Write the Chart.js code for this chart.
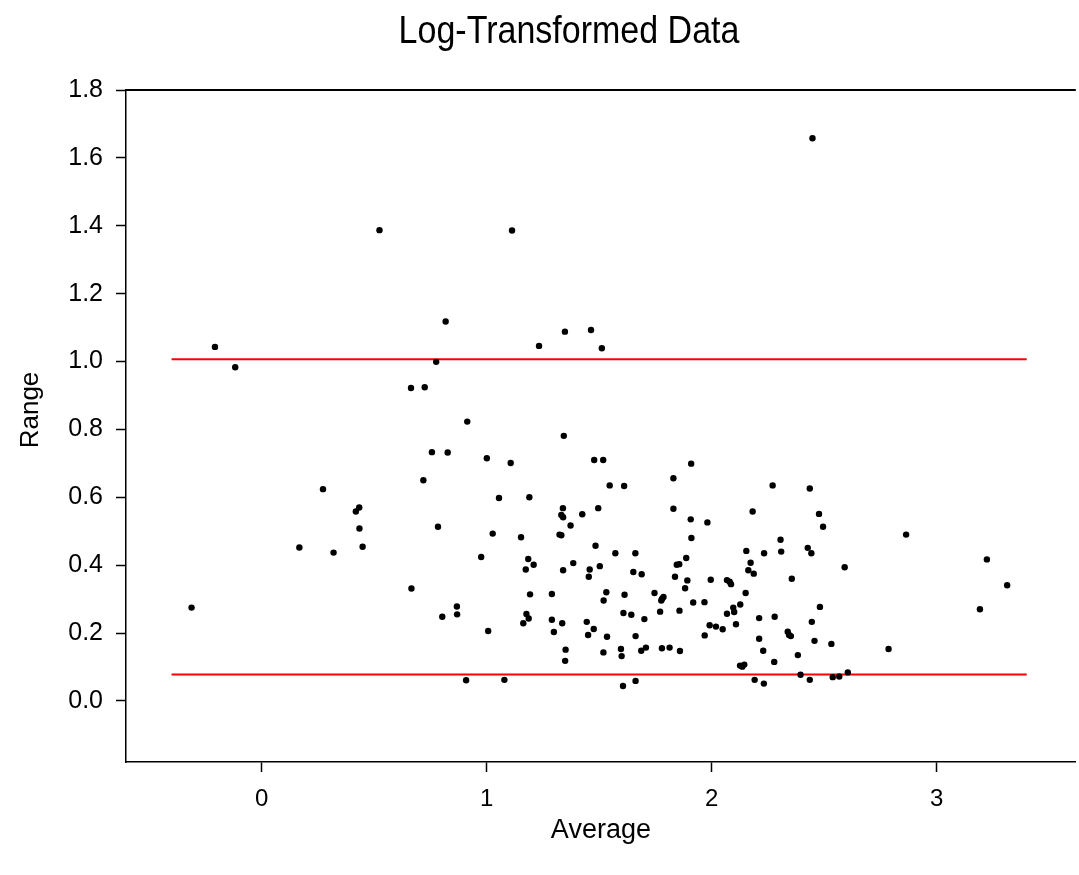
<!DOCTYPE html>
<html>
<head>
<meta charset="utf-8">
<script src="https://cdn.jsdelivr.net/npm/chart.js@4.4.0/dist/chart.umd.min.js"></script>
<style>
  html, body { margin: 0; padding: 0; background: #fff; }
  #wrap { width: 1079px; height: 875px; }
</style>
</head>
<body>
<div id="wrap"><canvas id="c" width="1079" height="875"></canvas></div>
<script>
const chartTitle = 'Log-Transformed Data';
const xTitle = 'Average';
const yTitle = 'Range';

const xTicks = [0, 1, 2, 3];
const yTicks = [0.0, 0.2, 0.4, 0.6, 0.8, 1.0, 1.2, 1.4, 1.6, 1.8];

const upperLimit = 1.0065;
const lowerLimit = 0.0775;
const limitStart = -0.4;
const limitEnd = 3.4;

const xValues = [
  -0.311, -0.207, -0.117,
  0.524, 1.113, 0.818, 2.448,
  1.348, 1.233, 0.776, 0.664, 0.725, 0.914, 1.343, 0.757, 0.827, 1.001,
  1.107, 0.273, 0.719, 1.055, 1.190, 1.339, 0.434, 0.419, 1.332, 1.340,
  1.373, 0.435, 0.784, 1.027, 1.153, 1.324, 1.332, 0.168, 0.320, 0.449,
  0.976, 1.185, 1.209, 1.174, 1.385, 1.340, 0.666, 1.193, 1.290, 0.868,
  0.869, 0.803, 1.177, 1.187, 1.163, 1.290, 1.336, 1.299, 1.007, 1.351,
  1.349, 0.909, 1.079,
  1.464, 1.512, 1.478, 1.518, 1.909, 1.547, 1.611, 1.830, 2.271, 1.425,
  1.496, 1.830, 2.182, 1.907, 1.981, 1.910, 2.306, 1.484, 1.572, 1.661,
  2.154, 2.233, 2.173, 1.458, 1.454, 1.503, 1.652, 1.689, 1.845, 1.856,
  1.887, 1.837, 1.892, 1.882, 1.996, 2.068, 2.080, 2.086, 2.163, 2.187,
  2.151, 1.532, 1.520, 1.613, 1.746, 1.786, 1.780, 1.776, 1.918, 1.968,
  2.127, 2.096, 2.100, 2.068, 1.608, 1.643, 1.771, 1.857, 1.701, 1.445,
  1.476, 1.451, 1.535, 1.662, 1.991, 2.019, 2.049, 2.108, 1.969, 2.211,
  2.280, 2.211, 2.229, 2.278, 1.519, 1.597, 1.600, 1.687, 1.708, 1.779,
  1.813, 1.859, 2.126, 2.136, 2.145, 1.606, 1.662, 2.191, 2.232,
  2.436, 2.477, 2.495, 2.309, 2.427, 2.443, 2.864, 2.591, 2.356, 3.223,
  3.313, 3.192, 2.481, 2.445, 2.338, 2.344, 2.352, 2.457, 2.532, 2.383,
  2.786, 2.395, 2.436, 2.538, 2.567, 2.605
];

const yValues = [
  0.275, 1.043, 0.983,
  1.387, 1.386, 1.118, 1.658,
  1.088, 1.046, 0.999, 0.922, 0.924, 0.823, 0.781, 0.733, 0.732, 0.715,
  0.701, 0.624, 0.650, 0.598, 0.600, 0.568, 0.570, 0.558, 0.548, 0.541,
  0.517, 0.508, 0.513, 0.493, 0.482, 0.490, 0.488, 0.452, 0.437, 0.454,
  0.424, 0.418, 0.401, 0.387, 0.406, 0.385, 0.331, 0.314, 0.315, 0.278,
  0.255, 0.248, 0.256, 0.243, 0.229, 0.239, 0.229, 0.203, 0.206, 0.151,
  0.118, 0.061, 0.062,
  1.093, 1.039, 0.710, 0.710, 0.699, 0.635, 0.633, 0.656, 0.635, 0.550,
  0.568, 0.566, 0.558, 0.535, 0.526, 0.480, 0.475, 0.457, 0.435, 0.435,
  0.442, 0.435, 0.407, 0.387, 0.366, 0.397, 0.380, 0.373, 0.401, 0.403,
  0.421, 0.366, 0.355, 0.332, 0.357, 0.356, 0.351, 0.344, 0.385, 0.375,
  0.318, 0.320, 0.296, 0.313, 0.318, 0.306, 0.301, 0.296, 0.290, 0.291,
  0.284, 0.275, 0.262, 0.257, 0.259, 0.254, 0.263, 0.266, 0.241, 0.233,
  0.212, 0.194, 0.189, 0.191, 0.223, 0.219, 0.211, 0.226, 0.193, 0.244,
  0.248, 0.183, 0.148, 0.115, 0.143, 0.153, 0.132, 0.148, 0.157, 0.155,
  0.157, 0.147, 0.104, 0.101, 0.107, 0.044, 0.059, 0.062, 0.051,
  0.626, 0.551, 0.513, 0.440, 0.451, 0.435, 0.490, 0.394, 0.360, 0.417,
  0.341, 0.270, 0.277, 0.233, 0.204, 0.194, 0.191, 0.177, 0.168, 0.135,
  0.153, 0.077, 0.062, 0.070, 0.072, 0.084
];

const points = xValues.map((x, i) => ({ x: x, y: yValues[i] }));

const FONT = '"Liberation Sans", Arial, sans-serif';
Chart.defaults.font.family = FONT;
Chart.defaults.color = '#000';

// top frame line, chart title and y-axis title
const frameAndTitles = {
  id: 'frameAndTitles',
  afterDraw(chart) {
    const { ctx, chartArea } = chart;
    ctx.save();
    ctx.strokeStyle = '#000';
    ctx.lineWidth = 2;
    ctx.beginPath();
    ctx.moveTo(chartArea.left, chartArea.top);
    ctx.lineTo(chartArea.right, chartArea.top);
    ctx.stroke();

    ctx.fillStyle = '#000';
    ctx.font = '34px ' + FONT;
    ctx.textAlign = 'center';
    ctx.textBaseline = 'alphabetic';
    ctx.save();
    ctx.translate(569, 43);
    ctx.scale(1, 1.12);
    ctx.fillText(chartTitle, 0, 0);
    ctx.restore();

    ctx.font = '26px ' + FONT;
    ctx.textBaseline = 'middle';
    ctx.translate(31, 410);
    ctx.rotate(-Math.PI / 2);
    ctx.fillText(yTitle, 0, 0);
    ctx.restore();
  }
};

new Chart(document.getElementById('c'), {
  type: 'scatter',
  data: {
    datasets: [
      {
        data: points,
        backgroundColor: '#000',
        borderColor: '#000',
        borderWidth: 0,
        pointRadius: 3.2,
        pointHoverRadius: 3.2
      },
      {
        data: [{ x: limitStart, y: upperLimit }, { x: limitEnd, y: upperLimit }],
        showLine: true,
        borderColor: '#ff0000',
        borderWidth: 2,
        pointRadius: 0,
        fill: false
      },
      {
        data: [{ x: limitStart, y: lowerLimit }, { x: limitEnd, y: lowerLimit }],
        showLine: true,
        borderColor: '#ff0000',
        borderWidth: 2,
        pointRadius: 0,
        fill: false
      }
    ]
  },
  options: {
    responsive: false,
    animation: false,
    events: [],
    layout: { padding: { top: 90, left: 0, right: 0, bottom: 0 } },
    plugins: {
      legend: { display: false },
      tooltip: { enabled: false },
      title: { display: false }
    },
    scales: {
      x: {
        type: 'linear',
        min: -0.6023,
        max: 3.618,
        afterBuildTicks: (s) => { s.ticks = xTicks.map(v => ({ value: v })); },
        afterFit: (s) => { s.height = 113; },
        grid: { drawOnChartArea: false, drawTicks: true, tickLength: 10, color: '#000', tickWidth: 1.5 },
        border: { display: true, color: '#000', width: 1.5 },
        ticks: { font: { size: 24 }, color: '#000', padding: 13, maxRotation: 0, callback: (v) => String(v) },
        title: { display: true, text: xTitle, color: '#000', font: { size: 27 }, padding: { top: 0, bottom: 28 } }
      },
      y: {
        type: 'linear',
        min: -0.18,
        max: 1.8,
        afterBuildTicks: (s) => { s.ticks = yTicks.map(v => ({ value: v })); },
        afterFit: (s) => { s.width = 126; },
        grid: { drawOnChartArea: false, drawTicks: true, tickLength: 10, color: '#000', tickWidth: 1.5 },
        border: { display: true, color: '#000', width: 1.5 },
        ticks: { font: { size: 25 }, color: '#000', padding: 13, callback: (v) => Number(v).toFixed(1) },
        title: { display: false }
      }
    }
  },
  plugins: [frameAndTitles]
});
</script>
</body>
</html>
